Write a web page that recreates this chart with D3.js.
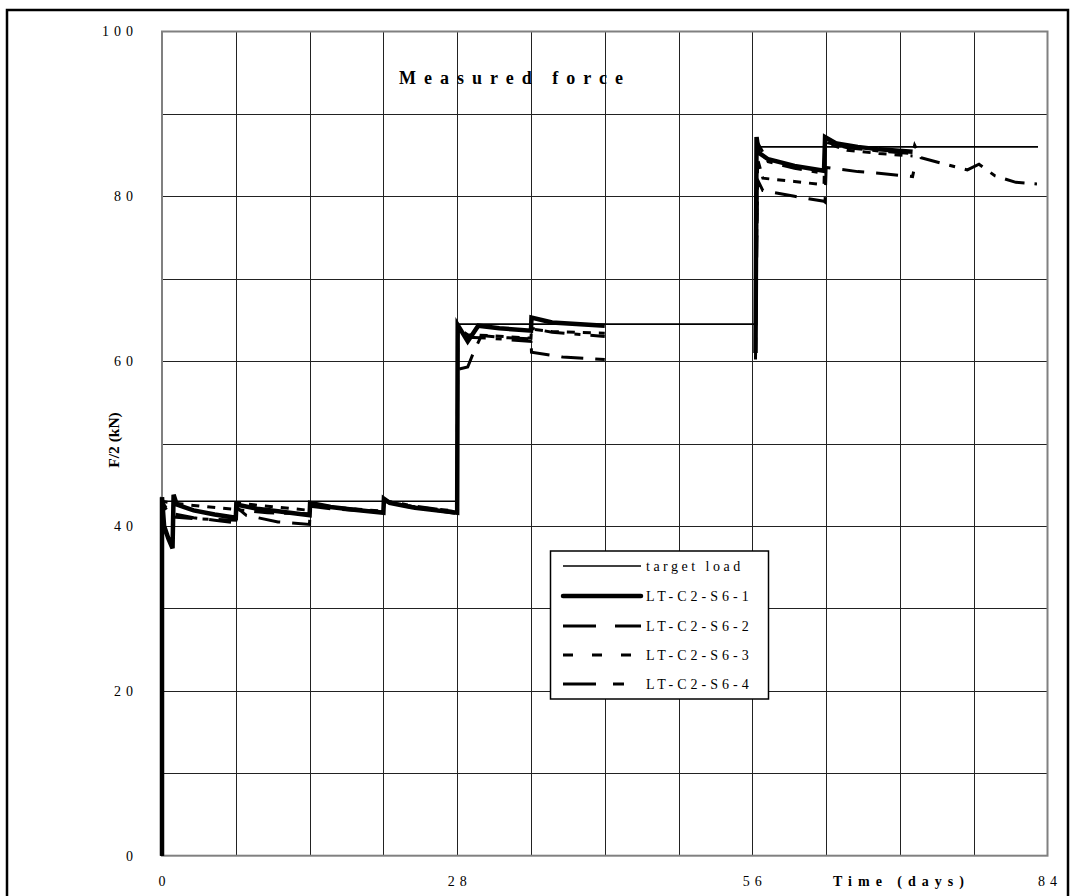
<!DOCTYPE html>
<html>
<head>
<meta charset="utf-8">
<script src="https://cdn.jsdelivr.net/npm/d3@7"></script>
<style>
  body { margin: 0; background: #fff; }
  text { font-family: "Liberation Serif", "Times New Roman", serif; }
</style>
</head>
<body>
<div id="chart"></div>
<script>
// axis ticks
const xTicks = [0, 28, 56, 84];
const yTicks = [0, 20, 40, 60, 80, 100];

// target load (step)
const targetDays  = [0, 0, 28, 28, 56.4, 56.4, 83.1];
const targetForce = [0, 43, 43, 64.5, 64.5, 86, 86];

// LT-C2-S6-1 (null = no reading)
const s1Days  = [0, 0, 0.2, 0.6, 1.0, 1.1, 1.4, 3, 5, 7, 7.05, 9, 11, 14, 14.05, 16, 18, 21, 21.05, 21.6, 24, 28,
                 28.05, 29, 30, 32, 35, 35.05, 37, 42, null,
                 56.3, 56.4, 56.6, 57.5, 60, 62.8, 62.9, 64, 66, 68, 71.2];
const s1Force = [0, 43.5, 40, 38.5, 37.3, 43.8, 42.6, 41.9, 41.4, 41.0, 42.6, 42.1, 41.8, 41.3, 42.8, 42.3, 42.0, 41.6, 43.3, 42.8, 42.2, 41.6,
                 64.4, 62.4, 64.3, 64.0, 63.7, 65.3, 64.7, 64.3, null,
                 61.0, 87.2, 85.3, 84.5, 83.7, 83.1, 87.2, 86.4, 86.0, 85.7, 85.4];

// LT-C2-S6-2
const s2Days  = [0, 0, 0.5, 1, 3, 5, 7, 7.05, 8, 11, 14, 14.05, 16, 21, 21.05, 24, 28,
                 28.05, 29, 29.6, 30.3, 32, 35, 35.05, 38, 42, null,
                 56.3, 56.5, 57, 60, 62.8, 62.9, 63, 66, 68, 71.2, 71.3];
const s2Force = [0, 43, 42, 41.5, 41.0, 40.7, 40.4, 42.3, 41.3, 40.5, 40.2, 42.4, 42.1, 41.7, 43.0, 42.3, 41.5,
                 59.0, 59.3, 61.2, 63.1, 62.9, 62.7, 61.1, 60.5, 60.2, null,
                 60.2, 82.0, 80.7, 80.0, 79.4, 79.3, 83.5, 83.0, 82.8, 82.4, 83.0];

// LT-C2-S6-3
const s3Days  = [0, 0, 1, 3, 7, 7.05, 10, 14, 14.05, 17, 21, 21.05, 24, 28,
                 28.05, 29, 31, 35, 35.05, 37, 42, null,
                 56.3, 56.5, 57, 60, 62.8, 62.9, 65, 68, 71.2];
const s3Force = [0, 43, 42.8, 42.5, 42.0, 42.8, 42.4, 41.9, 42.7, 42.2, 41.8, 43.0, 42.3, 41.8,
                 64.0, 63.2, 63.1, 62.8, 63.9, 63.6, 63.4, null,
                 63.4, 84.5, 82.2, 81.8, 81.4, 86.5, 85.6, 85.2, 84.9];

// LT-C2-S6-4
const s4Days  = [0, 0, 0.15, 0.9, 3, 7, 7.05, 10, 14, 14.05, 17, 21, 21.05, 24, 28,
                 28.05, 29, 31, 35, 35.05, 37, 42, null,
                 56.3, 56.5, 57.5, 60, 62.8, 62.9, 65, 68, 71.2, 71.4, 72, 74, 76.4, 77.5, 79, 81, 83];
const s4Force = [0, 42.6, 42.5, 41.1, 40.9, 40.7, 42.0, 41.6, 41.5, 42.6, 42.2, 41.7, 43.1, 42.4, 41.7,
                 63.6, 62.9, 62.8, 62.4, 64.0, 63.5, 63.0, null,
                 63.0, 86.5, 84.2, 83.4, 82.8, 86.6, 85.9, 85.5, 85.2, 86.2, 84.7, 84.0, 83.2, 83.9, 82.5, 81.7, 81.5];

const seriesNames = ['target load', 'LT-C2-S6-1', 'LT-C2-S6-2', 'LT-C2-S6-3', 'LT-C2-S6-4'];

const width = 1071, height = 896;
const plotLeft = 162, plotRight = 1047.5, plotTop = 31.5, plotBottom = 855.7;

const svg = d3.select('#chart')
  .append('svg')
  .attr('width', width)
  .attr('height', height);

// outer frame
svg.append('rect')
  .attr('x', 7).attr('y', 10)
  .attr('width', 1061).attr('height', 900)
  .attr('fill', '#fff')
  .attr('stroke', '#000')
  .attr('stroke-width', 2.5);

const x = d3.scaleLinear().domain([0, 84]).range([plotLeft, plotRight]);
const y = d3.scaleLinear().domain([0, 100]).range([plotBottom, plotTop]);

// grid
svg.append('g')
  .selectAll('line')
  .data(d3.range(7, 84, 7))
  .enter()
  .append('line')
  .attr('x1', d => Math.round(x(d)) + 0.5)
  .attr('x2', d => Math.round(x(d)) + 0.5)
  .attr('y1', plotTop)
  .attr('y2', plotBottom)
  .attr('stroke', '#222')
  .attr('stroke-width', 1);

svg.append('g')
  .selectAll('line')
  .data(d3.range(10, 100, 10))
  .enter()
  .append('line')
  .attr('x1', plotLeft)
  .attr('x2', plotRight)
  .attr('y1', d => Math.round(y(d)) + 0.5)
  .attr('y2', d => Math.round(y(d)) + 0.5)
  .attr('stroke', '#222')
  .attr('stroke-width', 1);

// plot border
svg.append('rect')
  .attr('x', plotLeft).attr('y', plotTop)
  .attr('width', plotRight - plotLeft).attr('height', plotBottom - plotTop)
  .attr('fill', 'none')
  .attr('stroke', '#808080')
  .attr('stroke-width', 2);

// axes (labels only)
const xAxis = svg.append('g')
  .attr('transform', `translate(0,${plotBottom})`)
  .call(d3.axisBottom(x).tickValues(xTicks).tickSize(0).tickPadding(20));
xAxis.select('.domain').remove();
xAxis.selectAll('text')
  .attr('font-family', '"Liberation Serif", serif')
  .attr('font-size', 14)
  .attr('fill', '#000')
  .attr('dx', 2)
  .style('letter-spacing', '5px');

const yAxis = svg.append('g')
  .attr('transform', `translate(${plotLeft},0)`)
  .call(d3.axisLeft(y).tickValues(yTicks).tickSize(0).tickPadding(24));
yAxis.select('.domain').remove();
yAxis.selectAll('text')
  .attr('font-family', '"Liberation Serif", serif')
  .attr('font-size', 14)
  .attr('fill', '#000')
  .style('letter-spacing', '5px');

// titles
svg.append('text')
  .attr('x', 515)
  .attr('y', 84)
  .attr('text-anchor', 'middle')
  .attr('font-size', 18)
  .attr('font-weight', 'bold')
  .style('letter-spacing', '8px')
  .text('Measured force');

svg.append('text')
  .attr('transform', 'translate(119,440) rotate(-90)')
  .attr('text-anchor', 'middle')
  .attr('font-size', 15.5)
  .attr('font-weight', 'bold')
  .text('F/2 (kN)');

svg.append('text')
  .attr('x', 833)
  .attr('y', 886)
  .attr('font-size', 14)
  .attr('font-weight', 'bold')
  .style('letter-spacing', '6px')
  .text('Time (days)');

// series
const styles = [
  { w: 1.6, dash: null, legendDash: null },
  { w: 4.5, dash: null, legendDash: null },
  { w: 3, dash: '22,12', legendDash: '33,19' },
  { w: 3, dash: '8,8', legendDash: '10,19' },
  { w: 3, dash: '20,10,6,10', legendDash: '33,17,11,17' }
];

const seriesData = [
  [targetDays, targetForce],
  [s1Days, s1Force],
  [s2Days, s2Force],
  [s3Days, s3Force],
  [s4Days, s4Force]
];

const line = d3.line()
  .defined(d => d[1] != null)
  .x(d => x(d[0]))
  .y(d => y(d[1]));

const drawOrder = [0, 2, 3, 4, 1];
drawOrder.forEach(i => {
  const [days, force] = seriesData[i];
  const pts = days.map((d, j) => [d, force[j]]);
  svg.append('path')
    .datum(pts)
    .attr('d', line)
    .attr('fill', 'none')
    .attr('stroke', '#000')
    .attr('stroke-width', styles[i].w)
    .attr('stroke-dasharray', styles[i].dash);
});

// legend
const legend = svg.append('g');
legend.append('rect')
  .attr('x', 550.5).attr('y', 551)
  .attr('width', 218).attr('height', 148)
  .attr('fill', '#fff')
  .attr('stroke', '#000')
  .attr('stroke-width', 1.5);

const rowY = [566, 596, 626, 655, 684];
seriesNames.forEach((name, i) => {
  legend.append('line')
    .attr('x1', 563).attr('x2', 641)
    .attr('y1', rowY[i]).attr('y2', rowY[i])
    .attr('stroke', '#000')
    .attr('stroke-width', styles[i].w)
    .attr('stroke-linecap', i === 1 ? 'round' : 'butt')
    .attr('stroke-dasharray', styles[i].legendDash);
  legend.append('text')
    .attr('x', 646)
    .attr('y', rowY[i] + 5)
    .attr('font-size', 14)
    .style('letter-spacing', i === 0 ? '3.5px' : '4px')
    .text(name);
});
</script>
</body>
</html>
